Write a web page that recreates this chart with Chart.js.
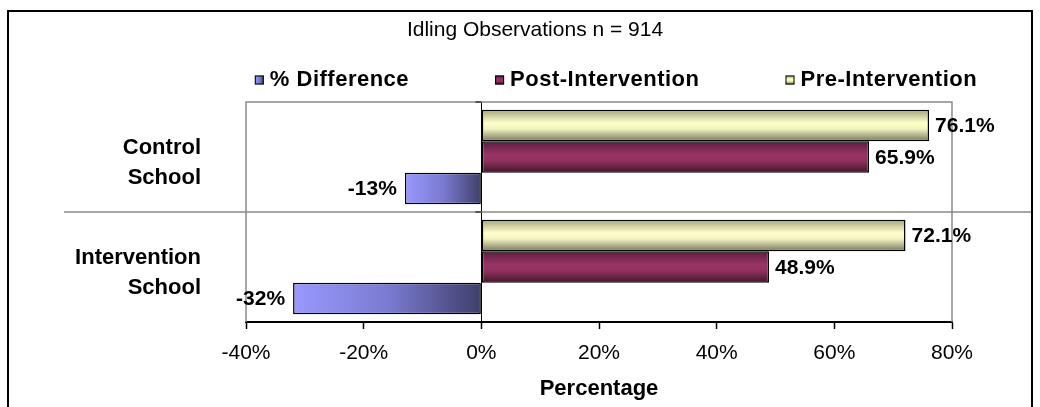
<!DOCTYPE html>
<html>
<head>
<meta charset="utf-8">
<title>Idling Observations</title>
<script src="https://cdn.jsdelivr.net/npm/chart.js@4.4.0/dist/chart.umd.min.js"></script>
<style>
  html, body { margin: 0; padding: 0; background: #ffffff; }
  canvas { display: block; }
</style>
</head>
<body>
<canvas id="chart" width="1040" height="407"></canvas>
<script>
// ---- data ----
const categories = [['Control', 'School'], ['Intervention', 'School']];
const preIntervention = [76.1, 72.1];
const postIntervention = [65.9, 48.9];
const pctDifference = [-13, -32];
const xTickValues = [-40, -20, 0, 20, 40, 60, 80];
const seriesNames = ['Pre-Intervention', 'Post-Intervention', '% Difference'];
const chartTitle = 'Idling Observations n = 914';
const xAxisTitle = 'Percentage';

// ---- styling ----
const FONT = "'Liberation Sans', Arial, Helvetica, sans-serif";
const FILLS = {
  pre:  { dir: 'v', stops: [[0, '#a4a47c'], [0.42, '#ffffcc'], [0.6, '#f4f4c2'], [1, '#76765a']] },
  post: { dir: 'v', stops: [[0, '#5a1e3c'], [0.42, '#993366'], [0.6, '#93325f'], [1, '#43162c']] },
  diff: { dir: 'h', stops: [[0, '#9999ff'], [0.5, '#7b7bd2'], [1, '#3f3f6c']] }
};
const SOLID = { pre: '#ffffcc', post: '#993366', diff: '#8585e0' };
const GRAY = '#8a8a8a';

function makeGradient(ctx, spec, x0, y0, x1, y1) {
  const g = spec.dir === 'v'
    ? ctx.createLinearGradient(0, y0, 0, y1)
    : ctx.createLinearGradient(x0, 0, x1, 0);
  spec.stops.forEach(([o, c]) => g.addColorStop(o, c));
  return g;
}

const seriesKeys = ['pre', 'post', 'diff'];
const seriesData = [preIntervention, postIntervention, pctDifference];

const datasets = seriesKeys.map((key, i) => ({
  label: seriesNames[i],
  data: seriesData[i],
  fillKey: key,
  backgroundColor: () => SOLID[key],
  borderColor: '#000000',
  borderWidth: 1.5,
  borderSkipped: false,
  categoryPercentage: 0.86,
  barPercentage: 1.0
}));

// outer frame, title, plot box, separator and category tick marks
const framePlugin = {
  id: 'frame',
  beforeDraw(chart) {
    const ctx = chart.ctx;
    ctx.save();
    ctx.fillStyle = '#ffffff';
    ctx.fillRect(0, 0, chart.width, chart.height);
    ctx.fillStyle = '#000000';
    ctx.font = '21px ' + FONT;
    ctx.textAlign = 'center';
    ctx.textBaseline = 'middle';
    ctx.fillText(chartTitle, 535, 30);
    ctx.restore();
  },
  beforeDatasetsDraw(chart) {
    const { ctx, chartArea: a, scales } = chart;
    ctx.save();
    // plot box (bottom edge is the value axis)
    ctx.strokeStyle = GRAY;
    ctx.lineWidth = 1.5;
    ctx.beginPath();
    ctx.moveTo(a.left, a.bottom);
    ctx.lineTo(a.left, a.top);
    ctx.lineTo(a.right, a.top);
    ctx.lineTo(a.right, a.bottom);
    ctx.stroke();
    // separator between the two schools
    const mid = (scales.y.getPixelForValue(0) + scales.y.getPixelForValue(1)) / 2;
    ctx.beginPath();
    ctx.moveTo(64, mid);
    ctx.lineTo(1032, mid);
    ctx.stroke();
    // category tick marks on the zero line
    const x0 = scales.x.getPixelForValue(0);
    ctx.strokeStyle = '#000000';
    ctx.lineWidth = 1;
    [a.top, mid, a.bottom].forEach(y => {
      ctx.beginPath();
      ctx.moveTo(x0 - 6, y);
      ctx.lineTo(x0, y);
      ctx.stroke();
    });
    ctx.restore();
  },
  afterDraw(chart) {
    const ctx = chart.ctx;
    ctx.save();
    ctx.strokeStyle = '#000000';
    ctx.lineWidth = 2;
    ctx.strokeRect(8, 11, 1024, 440);
    ctx.restore();
  }
};

// shaded fills for each bar, taken from the bar's own geometry
const shadePlugin = {
  id: 'shade',
  beforeDatasetsDraw(chart) {
    const ctx = chart.ctx;
    chart.data.datasets.forEach((ds, di) => {
      const meta = chart.getDatasetMeta(di);
      const spec = FILLS[ds.fillKey];
      meta.data.forEach(el => {
        const p = el.getProps(['x', 'y', 'base', 'height'], true);
        const top = p.y - p.height / 2, bottom = p.y + p.height / 2;
        const left = Math.min(p.x, p.base), right = Math.max(p.x, p.base);
        if (Object.isFrozen(el.options)) el.options = Object.assign({}, el.options);
        el.options.backgroundColor = makeGradient(ctx, spec, left, top, right, bottom);
      });
    });
  }
};

// value labels at the bar ends
const valueLabelPlugin = {
  id: 'valueLabels',
  afterDatasetsDraw(chart) {
    const ctx = chart.ctx;
    ctx.save();
    ctx.font = 'bold 21px ' + FONT;
    ctx.fillStyle = '#000000';
    ctx.textBaseline = 'middle';
    chart.data.datasets.forEach((ds, di) => {
      const meta = chart.getDatasetMeta(di);
      meta.data.forEach((el, i) => {
        const v = ds.data[i];
        const p = el.getProps(['x', 'y'], true);
        const txt = String(v) + '%';
        if (v >= 0) {
          ctx.textAlign = 'left';
          ctx.fillText(txt, p.x + 6, p.y + 1);
        } else {
          ctx.textAlign = 'right';
          ctx.fillText(txt, p.x - 8, p.y + 1);
        }
      });
    });
    ctx.restore();
  }
};

// legend row (series listed bottom-to-top)
const legendRowPlugin = {
  id: 'legendRow',
  afterDraw(chart) {
    const ctx = chart.ctx;
    const a = chart.chartArea;
    const box = 9, textGap = 6, itemGap = 86;
    const order = chart.data.datasets.map((d, i) => i).reverse();
    ctx.save();
    ctx.font = 'bold 22px ' + FONT;
    if ('letterSpacing' in ctx) ctx.letterSpacing = '0.5px';
    const widths = order.map(i => ctx.measureText(chart.data.datasets[i].label).width);
    const total = widths.reduce((s, w) => s + box + textGap + w, 0) + itemGap * (order.length - 1);
    let x = (a.left + a.right) / 2 + 17 - total / 2;
    const y = 80;
    order.forEach((di, k) => {
      const ds = chart.data.datasets[di];
      const spec = FILLS[ds.fillKey];
      ctx.fillStyle = makeGradient(ctx, spec, x, y - box / 2, x + box, y + box / 2);
      ctx.fillRect(x, y - box / 2, box, box);
      ctx.strokeStyle = '#000000';
      ctx.lineWidth = 1;
      ctx.strokeRect(x + 0.5, y - box / 2 + 0.5, box - 1, box - 1);
      ctx.fillStyle = '#000000';
      ctx.textAlign = 'left';
      ctx.textBaseline = 'middle';
      ctx.fillText(ds.label, x + box + textGap, y);
      x += box + textGap + widths[k] + itemGap;
    });
    ctx.restore();
  }
};

new Chart(document.getElementById('chart'), {
  type: 'bar',
  data: { labels: categories, datasets },
  options: {
    indexAxis: 'y',
    responsive: false,
    animation: false,
    devicePixelRatio: 1,
    layout: { padding: { left: 0, right: 88, top: 102, bottom: 0 } },
    plugins: {
      legend: { display: false },
      tooltip: { enabled: false },
      title: { display: false }
    },
    scales: {
      x: {
        type: 'linear',
        min: -40,
        max: 80,
        afterBuildTicks: s => { s.ticks = xTickValues.map(v => ({ value: v })); },
        afterFit: s => { s.height = 85; },
        ticks: {
          color: '#000000',
          font: { family: FONT, size: 21 },
          padding: 12,
          callback: v => v + '%'
        },
        grid: {
          color: c => (c.tick && c.tick.value === 0) ? '#000000' : 'rgba(0,0,0,0)',
          lineWidth: 1,
          tickColor: '#000000',
          tickWidth: 1.5,
          tickLength: 7
        },
        border: { display: true, color: '#000000', width: 2 },
        title: {
          display: true,
          text: xAxisTitle,
          color: '#000000',
          font: { family: FONT, size: 22, weight: 'bold' },
          padding: { top: 0, bottom: 5 }
        }
      },
      y: {
        type: 'category',
        afterFit: s => { s.width = 246; },
        ticks: {
          color: '#000000',
          font: { family: FONT, size: 22, weight: 'bold', lineHeight: 1.38 },
          padding: 45,
          labelOffset: 6
        },
        grid: { display: false, drawTicks: false },
        border: { display: false }
      }
    }
  },
  plugins: [framePlugin, shadePlugin, valueLabelPlugin, legendRowPlugin]
});
</script>
</body>
</html>
